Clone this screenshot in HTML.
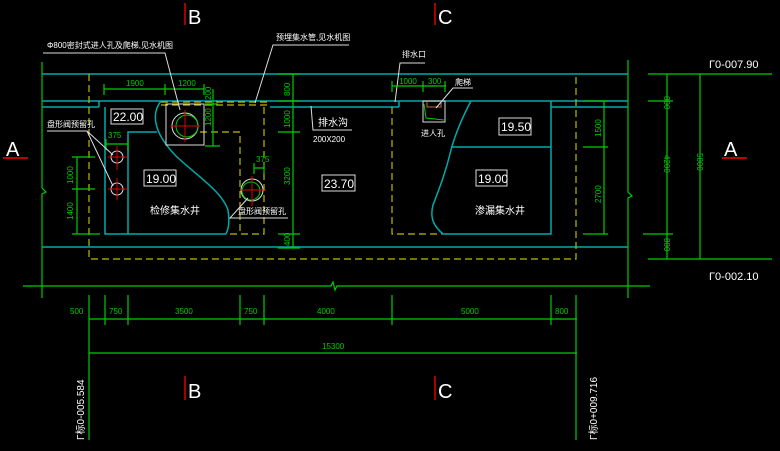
<!DOCTYPE html>
<html><head><meta charset="utf-8"><style>
html,body{margin:0;padding:0;background:#000;width:780px;height:451px;overflow:hidden}
svg{display:block}
text{font-family:"Liberation Sans","Noto Sans CJK SC",sans-serif;fill:#fff}
.g{stroke:#0c0;stroke-width:1.2;fill:none}
.c{stroke:#0aa;stroke-width:1.5;fill:none}
.y{stroke:#bb0;stroke-width:1.2;fill:none;stroke-dasharray:7,4}
.w{stroke:#ddd;stroke-width:1;fill:none}
.r{stroke:#d00;stroke-width:1;fill:none}
.gt{fill:#0c0;font-size:8px}
.wt{font-size:8px}
.bx{stroke:#ddd;stroke-width:1;fill:none}
.num{font-size:12px}
</style></head><body>
<svg width="780" height="451" viewBox="0 0 780 451" xmlns="http://www.w3.org/2000/svg">
<!-- section markers -->
<line x1="185" y1="3" x2="185" y2="25" stroke="#d00" stroke-width="1.5"/>
<text x="188" y="24" font-size="20">B</text>
<line x1="435" y1="3" x2="435" y2="25" stroke="#d00" stroke-width="1.5"/>
<text x="438" y="24" font-size="20">C</text>
<text x="6" y="156" font-size="20">A</text>
<line x1="3" y1="158" x2="28" y2="158" stroke="#b00" stroke-width="2"/>
<text x="724" y="156" font-size="20">A</text>
<line x1="722" y1="158" x2="747" y2="158" stroke="#b00" stroke-width="2"/>

<!-- outer green verticals with breaks -->
<path class="g" d="M42,62 V188 l4,4 l-4,2 V298"/>
<path class="g" d="M628,60 V192 l4,4 l-4,2 V298"/>
<path class="g" d="M23,286 H331 l2,-4 l2,8 l2,-4 H650"/>

<!-- cyan walls -->
<line class="c" x1="42" y1="74" x2="628" y2="74"/>
<line class="c" x1="42" y1="101" x2="628" y2="101"/>
<line class="c" x1="42" y1="107" x2="99" y2="107"/>
<path class="c" d="M99,107 V101"/>
<line class="c" x1="270" y1="107" x2="399" y2="107"/>
<path class="c" d="M399,107 V101"/>
<line class="c" x1="551" y1="107" x2="628" y2="107"/>
<line class="c" x1="42" y1="247" x2="628" y2="247"/>

<!-- yellow dashed -->
<path class="y" d="M89,74 V259 H576 V74"/>
<path class="y" d="M161,102 H270 M161,105 H270"/>
<path class="y" d="M264,107 V234 H226"/>
<path class="y" d="M200,132 H240 V234"/>
<path class="y" d="M392,107 V234 H442"/>

<!-- left pit -->
<path class="c" d="M105,107 V234 H226"/>
<path class="c" d="M128,234 V132 H157"/>
<path class="c" d="M161,101 C150,115 155,135 177,157 C200,178 222,192 228,210 C230,222 228,230 226,234"/>
<!-- manhole square -->
<rect x="166" y="104" width="38" height="41" class="w"/>
<circle cx="185" cy="126" r="13" class="w"/>
<circle cx="187" cy="126" r="11" stroke="#0c0" fill="none"/>
<path class="r" d="M170,126 H200 M185,110 V142"/>
<!-- small circles -->
<circle cx="117" cy="157" r="6" class="w"/><path class="r" d="M108,157 H128 M117,146 V170"/>
<circle cx="117" cy="189" r="6" class="w"/><path class="r" d="M108,189 H128 M117,178 V200"/>
<circle cx="252" cy="190" r="11" class="w"/><circle cx="251" cy="191" r="9" stroke="#0c0" fill="none"/>
<path class="r" d="M240,190 H266 M252,176 V206"/>
<rect x="111" y="109" width="32" height="15" class="bx"/><text x="113" y="121" class="num">22.00</text>
<rect x="144" y="170" width="32" height="16" class="bx"/><text x="146" y="183" class="num">19.00</text>
<text x="150" y="214" font-size="10">检修集水井</text>

<!-- left pit dims -->
<path class="g" d="M104,89 H204 M104,84 V95 M165,84 V95 M204,84 V95"/>
<text x="126" y="86" class="gt" font-size="7">1900</text>
<text x="178" y="86" class="gt" font-size="7">1200</text>
<path class="g" d="M213,89 V146 M205,104 H218 M205,146 H220"/>
<text x="0" y="0" class="gt" font-size="7" transform="translate(211,126) rotate(-90)">1200</text>
<text x="0" y="0" class="gt" font-size="7" transform="translate(211,100) rotate(-90)">200</text>
<path class="g" d="M106,144 H128 M106,139 V150 M128,139 V150"/>
<text x="108" y="138" class="gt" font-size="7">375</text>
<path class="g" d="M254,168 H264 M254,163 V174 M264,163 V174"/>
<text x="256" y="162" class="gt" font-size="7">375</text>
<path class="g" d="M77,157 V234 M72,157 H95 M72,189 H95 M72,234 H100"/>
<text x="0" y="0" class="gt" transform="translate(73,184) rotate(-90)">1000</text>
<text x="0" y="0" class="gt" transform="translate(73,220) rotate(-90)">1400</text>

<!-- leaders left -->
<text x="47" y="48" class="wt">Φ800密封式进人孔及爬梯,见水机图</text>
<path class="w" d="M43,53 H165 L180,110"/>
<text x="276" y="40" class="wt">预埋集水管,见水机图</text>
<path class="w" d="M349,45 H273 L255,103"/>
<text x="47" y="127" class="wt">盘形阀预留孔</text>
<path class="w" d="M47,131 H87 L113,155 M87,131 L113,186"/>
<text x="238" y="214" class="wt">盘形阀预留孔</text>
<path class="w" d="M288,218 H230 L248,198"/>

<!-- middle dims -->
<path class="g" d="M293,74 V248 M278,74 H300 M278,101 H300 M278,132 H300 M278,234 H300 M278,248 H300"/>
<text x="0" y="0" class="gt" transform="translate(290,96) rotate(-90)">800</text>
<text x="0" y="0" class="gt" transform="translate(290,128) rotate(-90)">1000</text>
<text x="0" y="0" class="gt" transform="translate(290,185) rotate(-90)">3200</text>
<text x="0" y="0" class="gt" transform="translate(290,246) rotate(-90)">400</text>
<path class="w" d="M311,106 L313,130 H352"/>
<text x="318" y="126" font-size="10">排水沟</text>
<text x="313" y="142" class="wt">200X200</text>
<rect x="322" y="175" width="33" height="16" class="bx"/><text x="324" y="188" class="num">23.70</text>

<!-- outlet / manhole -->
<text x="402" y="57" class="wt">排水口</text>
<path class="w" d="M425,63 H400 L395,102"/>
<path class="g" d="M392,86 H446 M392,81 V92 M423,81 V92 M445,81 V92"/>
<text x="399" y="84" class="gt" font-size="6">1000</text>
<text x="428" y="84" class="gt" font-size="6">300</text>
<rect x="423" y="101" width="22" height="21" class="w"/>
<path d="M427,101 V107 H441 V101" stroke="#c64" fill="none"/>
<path d="M424,104 L426,118 L444,120" stroke="#0c0" fill="none"/>
<text x="455" y="85" class="wt">爬梯</text>
<path class="w" d="M473,88 H453 L436,108"/>
<text x="421" y="136" class="wt">进人孔</text>

<!-- right pit -->
<path class="c" d="M471,101 C462,118 455,135 451,150 C445,175 438,192 433,205 C429,220 436,228 443,234 H551 V101"/>
<line class="c" x1="451" y1="147" x2="551" y2="147"/>
<rect x="499" y="118" width="32" height="17" class="bx"/><text x="501" y="131" class="num">19.50</text>
<rect x="476" y="170" width="31" height="16" class="bx"/><text x="478" y="183" class="num">19.00</text>
<text x="475" y="214" font-size="10">渗漏集水井</text>
<path class="g" d="M604,101 V234 M583,101 H608 M583,147 H608 M583,234 H608"/>
<text x="0" y="0" class="gt" transform="translate(601,137) rotate(-90)">1500</text>
<text x="0" y="0" class="gt" transform="translate(601,203) rotate(-90)">2700</text>

<!-- far right -->
<path class="g" d="M667,74 V259 M700,74 V259 M648,74 H772 M648,101 H673 M643,234 H673 M648,259 H772"/>
<text x="0" y="0" class="gt" transform="translate(664,96) rotate(90)">800</text>
<text x="0" y="0" class="gt" transform="translate(664,155) rotate(90)">4200</text>
<text x="0" y="0" class="gt" transform="translate(664,238) rotate(90)">800</text>
<text x="0" y="0" class="gt" transform="translate(697,153) rotate(90)">5800</text>
<text x="709" y="68" font-size="11">Γ0-007.90</text>
<text x="709" y="280" font-size="11">Γ0-002.10</text>

<!-- bottom dims -->
<path class="g" d="M89,295 V440 M105,295 V325 M128,295 V325 M240,295 V325 M264,295 V325 M392,295 V325 M551,295 V325 M576,295 V440 M89,319 H577 M89,353 H577"/>
<text x="70" y="314" class="gt">500</text>
<text x="109" y="314" class="gt">750</text>
<text x="175" y="314" class="gt">3500</text>
<text x="244" y="314" class="gt">750</text>
<text x="317" y="314" class="gt">4000</text>
<text x="461" y="314" class="gt">5000</text>
<text x="555" y="314" class="gt">800</text>
<text x="322" y="349" class="gt">15300</text>
<text x="0" y="0" font-size="10" transform="translate(84,440) rotate(-90)">Γ标0-005.584</text>
<text x="0" y="0" font-size="10" transform="translate(597,440) rotate(-90)">Γ标0+009.716</text>
<line x1="185" y1="376" x2="185" y2="400" stroke="#d00" stroke-width="1.5"/>
<text x="188" y="398" font-size="20">B</text>
<line x1="435" y1="376" x2="435" y2="400" stroke="#d00" stroke-width="1.5"/>
<text x="438" y="398" font-size="20">C</text>
</svg>
</body></html>
